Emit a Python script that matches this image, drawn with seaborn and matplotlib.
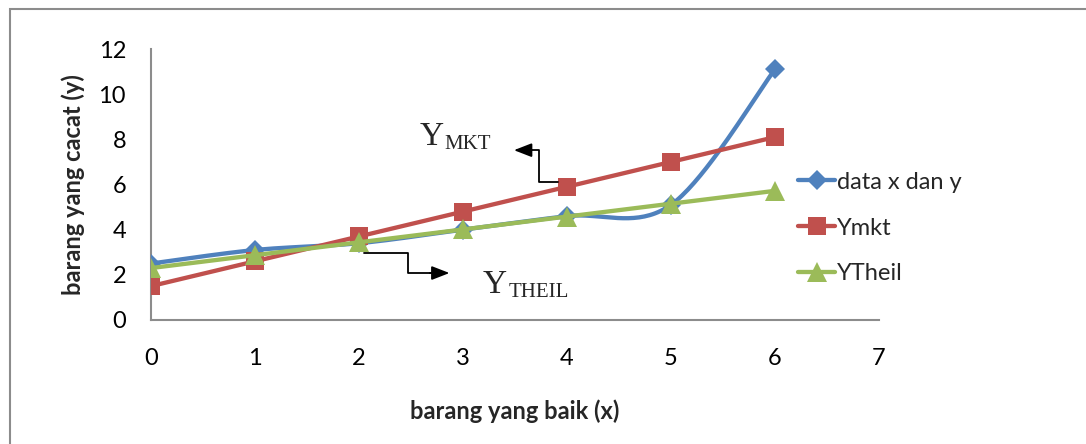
import numpy as np
import pandas as pd
import matplotlib
matplotlib.use("Agg")
import matplotlib.pyplot as plt
from matplotlib.lines import Line2D
from matplotlib.patches import Rectangle
import seaborn as sns

# ---- data ----
x_vals = [0, 1, 2, 3, 4, 5, 6]
data_xy = [2.5, 3.1, 3.4, 4.0, 4.6, 5.1, 11.1]
ymkt = [1.5, 2.6, 3.7, 4.8, 5.9, 7.0, 8.1]
ytheil = [2.3, 2.87, 3.44, 4.01, 4.58, 5.15, 5.72]
series_names = ["data x dan y", "Ymkt", "YTheil"]
x_ticks = [0, 1, 2, 3, 4, 5, 6, 7]
y_ticks = [0, 2, 4, 6, 8, 10, 12]

BLUE = "#4F81BD"
RED = "#C0504D"
GREEN = "#9BBB59"

sns.set_theme(style="white")
plt.rcParams["font.family"] = ["Lato", "DejaVu Sans"]

FS = 17

fig = plt.figure(figsize=(10.86, 4.44), dpi=100)
ax = fig.add_axes([151 / 1086, 1 - 320 / 444, (879 - 151) / 1086, (320 - 49) / 444])

# outer chart border (cropped on right/bottom)
fig.patches.append(Rectangle((10 / 1086, -0.05), 1.2, (444 - 9) / 444 + 0.05,
                             transform=fig.transFigure, fill=False,
                             edgecolor="#8c8c8c", linewidth=1.5, zorder=0))


def smooth_curve(xs, ys, n=40):
    """Catmull-Rom style Bezier smoothing (like Excel's smoothed line)."""
    P = np.column_stack([xs, ys]).astype(float)
    P_ext = np.vstack([P[0], P, P[-1]])
    out = []
    t = np.linspace(0, 1, n)
    for i in range(1, len(P_ext) - 2):
        p0, p1, p2, p3 = P_ext[i - 1], P_ext[i], P_ext[i + 1], P_ext[i + 2]
        c1 = p1 + (p2 - p0) / 6
        c2 = p2 - (p3 - p1) / 6
        seg = ((1 - t)[:, None] ** 3 * p1 + 3 * ((1 - t) ** 2 * t)[:, None] * c1
               + 3 * ((1 - t) * t ** 2)[:, None] * c2 + (t ** 3)[:, None] * p2)
        out.append(seg)
    return np.vstack(out)


lw = 3.1
MS_D, MS_S, MS_T = 10, 12.5, 14
sm = smooth_curve(x_vals, data_xy)
smooth_df = pd.DataFrame({"x": sm[:, 0], "y": sm[:, 1]})
sns.lineplot(data=smooth_df, x="x", y="y", sort=False, color=BLUE, linewidth=lw,
             ax=ax, zorder=3, legend=False)
ax.plot(x_vals, data_xy, linestyle="none", marker="D", markersize=MS_D,
        markeredgewidth=0, color=BLUE, zorder=3)

df = pd.DataFrame({"x": x_vals, "Ymkt": ymkt, "YTheil": ytheil})
sns.lineplot(data=df, x="x", y="Ymkt", color=RED, linewidth=lw, marker="s",
             markersize=MS_S, markeredgewidth=0, ax=ax, zorder=4, legend=False)
sns.lineplot(data=df, x="x", y="YTheil", color=GREEN, linewidth=lw, marker="^",
             markersize=MS_T, markeredgewidth=0, ax=ax, zorder=5, legend=False)

ax.set_xlim(0, 7)
ax.set_ylim(0, 12)
ax.set_xticks(x_ticks)
ax.set_yticks(y_ticks)
ax.tick_params(axis="x", length=0, pad=20, labelsize=FS)
ax.tick_params(axis="y", length=0, pad=18, labelsize=FS)
for lab in ax.get_xticklabels() + ax.get_yticklabels():
    lab.set_color("black")
for s in ["top", "right"]:
    ax.spines[s].set_visible(False)
for s in ["left", "bottom"]:
    ax.spines[s].set_color("#8c8c8c")
    ax.spines[s].set_linewidth(1.5)

ax.set_xlabel("barang yang baik (x)", fontsize=FS, fontweight="bold", labelpad=22)
ax.set_ylabel("barang yang cacat (y)", fontsize=FS, fontweight="bold", labelpad=10)

# annotations (elbow arrows)
arrow_kw = dict(color="black", linewidth=1.3, zorder=6)
ax.plot([3.91, 3.73, 3.73, 3.62], [6.1, 6.1, 7.52, 7.52], **arrow_kw)
ax.annotate("", xy=(3.49, 7.52), xytext=(3.66, 7.52),
            arrowprops=dict(arrowstyle="-|>,head_length=0.9,head_width=0.35",
                            color="black", lw=1.3, shrinkA=0, shrinkB=0))
ax.plot([2.05, 2.47, 2.47, 2.70], [2.96, 2.96, 2.08, 2.08], **arrow_kw)
ax.annotate("", xy=(2.87, 2.08), xytext=(2.68, 2.08),
            arrowprops=dict(arrowstyle="-|>,head_length=0.9,head_width=0.35",
                            color="black", lw=1.3, shrinkA=0, shrinkB=0))

serif = ["Liberation Serif", "DejaVu Serif"]
ax.text(2.58, 7.74, "Y", family=serif, fontsize=24, va="baseline", ha="left")
ax.text(2.82, 7.56, "MKT", family=serif, fontsize=15, va="baseline", ha="left")
ax.text(3.19, 1.19, "Y", family=serif, fontsize=24, va="baseline", ha="left")
ax.text(3.44, 1.01, "THEIL", family=serif, fontsize=15, va="baseline", ha="left")

handles = [
    Line2D([], [], color=BLUE, linewidth=lw, marker="D", markersize=MS_D, markeredgewidth=0),
    Line2D([], [], color=RED, linewidth=lw, marker="s", markersize=MS_S, markeredgewidth=0),
    Line2D([], [], color=GREEN, linewidth=lw, marker="^", markersize=MS_T, markeredgewidth=0),
]
leg = fig.legend(handles, series_names, loc="center left",
                 bbox_to_anchor=(777 / 1086, 1 - 228 / 444), frameon=False,
                 fontsize=FS, handlelength=1.55, handletextpad=0.1,
                 labelspacing=1.05)

fig.savefig("out.png", dpi=100)
